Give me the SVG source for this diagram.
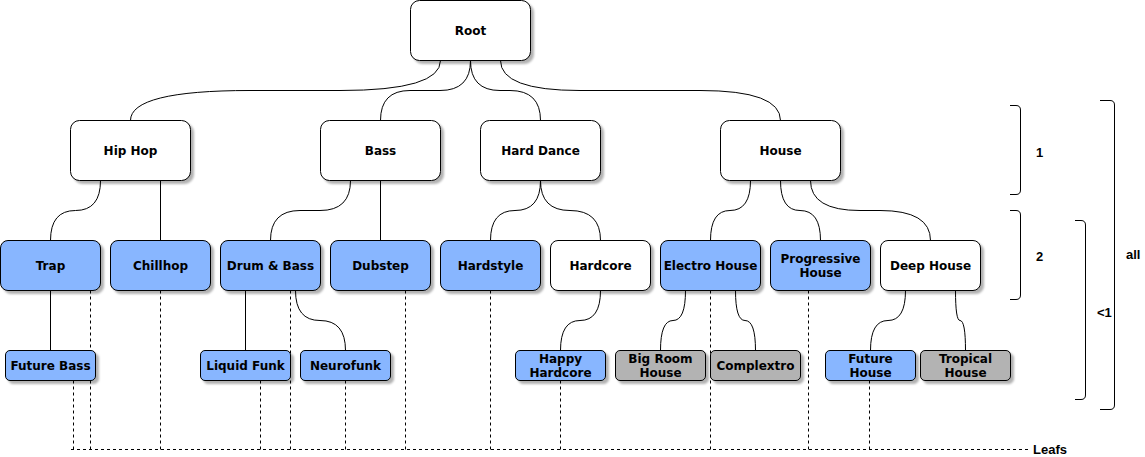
<svg xmlns="http://www.w3.org/2000/svg" width="1145" height="457" viewBox="0 0 1145 457">
<style>
.n{stroke:#000;stroke-width:1;filter:url(#sh)}
.w{fill:#fff}
.b{fill:#88b6ff}
.g{fill:#b3b3b3}
.t{font-family:"DejaVu Sans",Verdana,sans-serif;font-weight:bold;font-size:12px;fill:#000;text-anchor:middle}
.c path{fill:none;stroke:#000;stroke-width:1}
.d path{fill:none;stroke:#000;stroke-width:1;stroke-dasharray:3 3}
.br path{fill:none;stroke:#000;stroke-width:1}
.l{font-family:"Liberation Sans",Arial,sans-serif;font-weight:bold;font-size:13px;fill:#000}
</style>
<defs>
<filter id="sh" x="-10%" y="-10%" width="130%" height="140%">
<feDropShadow dx="3" dy="3" stdDeviation="0.8" flood-color="#000" flood-opacity="0.3"/>
</filter>
</defs>
<rect width="1145" height="457" fill="#fff"/>

<g id="leaf-lines" class="d">
<path d="M73.5 380.5V449.5"/>
<path d="M90.5 290.5V449.5"/>
<path d="M160.5 290.5V449.5"/>
<path d="M260.5 380.5V449.5"/>
<path d="M290.5 290.5V449.5"/>
<path d="M345.5 380.5V449.5"/>
<path d="M405.5 290.5V449.5"/>
<path d="M490.5 290.5V449.5"/>
<path d="M560.5 380.5V449.5"/>
<path d="M710.5 290.5V449.5"/>
<path d="M808.5 290.5V449.5"/>
<path d="M869.5 380.5V449.5"/>
<path d="M71 449.5H1030"/>
</g>

<g id="connectors" class="c">
<path d="M440.5 60.5Q440.5 90.5 340 90.5L250 90.5Q130.5 90.5 130.5 120.5"/>
<path d="M470.5 60.5Q470.5 90.5 440 90.5L410 90.5Q380.5 90.5 380.5 120.5"/>
<path d="M470.5 60.5Q470.5 90.5 500 90.5L510 90.5Q540.5 90.5 540.5 120.5"/>
<path d="M500.5 60.5Q500.5 90.5 580 90.5L700 90.5Q780.5 90.5 780.5 120.5"/>
<path d="M100.5 180.5Q100.5 210.5 75.5 210.5Q50.5 210.5 50.5 240.5"/>
<path d="M160.5 180.5V240.5"/>
<path d="M350.5 180.5Q350.5 210.5 320 210.5L300 210.5Q270.5 210.5 270.5 240.5"/>
<path d="M380.5 180.5V240.5"/>
<path d="M540.5 180.5Q540.5 210.5 515 210.5Q490.5 210.5 490.5 240.5"/>
<path d="M540.5 180.5Q540.5 210.5 570 210.5Q600.5 210.5 600.5 240.5"/>
<path d="M750.5 180.5Q750.5 210.5 730 210.5Q710.5 210.5 710.5 240.5"/>
<path d="M780.5 180.5Q780.5 210.5 800 210.5Q820.5 210.5 820.5 240.5"/>
<path d="M810.5 180.5Q810.5 210.5 860 210.5L880 210.5Q930.5 210.5 930.5 240.5"/>
<path d="M50.5 290.5V350.5"/>
<path d="M245.5 290.5V350.5"/>
<path d="M295.5 290.5Q295.5 320.5 320 320.5Q345.5 320.5 345.5 350.5"/>
<path d="M600.5 290.5Q600.5 320.5 580 320.5Q560.5 320.5 560.5 350.5"/>
<path d="M685.5 290.5Q685.5 320.5 673 320.5Q660.5 320.5 660.5 350.5"/>
<path d="M735.5 290.5Q735.5 320.5 745 320.5Q755.5 320.5 755.5 350.5"/>
<path d="M905.5 290.5Q905.5 320.5 888 320.5Q870.5 320.5 870.5 350.5"/>
<path d="M955.5 290.5Q955.5 320.5 960 320.5Q965.5 320.5 965.5 350.5"/>
</g>

<g id="root"><rect class="n w" x="410.5" y="0.5" width="120" height="60" rx="9"/><text class="t" x="470.5" y="35">Root</text></g>

<g id="hiphop"><rect class="n w" x="70.5" y="120.5" width="120" height="60" rx="9"/><text class="t" x="130.5" y="155">Hip Hop</text></g>
<g id="bass"><rect class="n w" x="320.5" y="120.5" width="120" height="60" rx="9"/><text class="t" x="380.5" y="155">Bass</text></g>
<g id="harddance"><rect class="n w" x="480.5" y="120.5" width="120" height="60" rx="9"/><text class="t" x="540.5" y="155">Hard Dance</text></g>
<g id="house"><rect class="n w" x="720.5" y="120.5" width="120" height="60" rx="9"/><text class="t" x="780.5" y="155">House</text></g>

<g id="trap"><rect class="n b" x="0.5" y="240.5" width="100" height="50" rx="7.5"/><text class="t" x="50.5" y="270">Trap</text></g>
<g id="chillhop"><rect class="n b" x="110.5" y="240.5" width="100" height="50" rx="7.5"/><text class="t" x="160.5" y="270">Chillhop</text></g>
<g id="drumbass"><rect class="n b" x="220.5" y="240.5" width="100" height="50" rx="7.5"/><text class="t" x="270.5" y="270">Drum &amp; Bass</text></g>
<g id="dubstep"><rect class="n b" x="330.5" y="240.5" width="100" height="50" rx="7.5"/><text class="t" x="380.5" y="270">Dubstep</text></g>
<g id="hardstyle"><rect class="n b" x="440.5" y="240.5" width="100" height="50" rx="7.5"/><text class="t" x="490.5" y="270">Hardstyle</text></g>
<g id="hardcore"><rect class="n w" x="550.5" y="240.5" width="100" height="50" rx="7.5"/><text class="t" x="600.5" y="270">Hardcore</text></g>
<g id="electrohouse"><rect class="n b" x="660.5" y="240.5" width="100" height="50" rx="7.5"/><text class="t" x="710.5" y="270">Electro House</text></g>
<g id="progressivehouse"><rect class="n b" x="770.5" y="240.5" width="100" height="50" rx="7.5"/><text class="t" x="820.5" y="263">Progressive</text><text class="t" x="820.5" y="277">House</text></g>
<g id="deephouse"><rect class="n w" x="880.5" y="240.5" width="100" height="50" rx="7.5"/><text class="t" x="930.5" y="270">Deep House</text></g>

<g id="futurebass"><rect class="n b" x="5.5" y="350.5" width="90" height="30" rx="4.5"/><text class="t" x="50.5" y="370">Future Bass</text></g>
<g id="liquidfunk"><rect class="n b" x="200.5" y="350.5" width="90" height="30" rx="4.5"/><text class="t" x="245.5" y="370">Liquid Funk</text></g>
<g id="neurofunk"><rect class="n b" x="300.5" y="350.5" width="90" height="30" rx="4.5"/><text class="t" x="345.5" y="370">Neurofunk</text></g>
<g id="happyhardcore"><rect class="n b" x="515.5" y="350.5" width="90" height="30" rx="4.5"/><text class="t" x="560.5" y="363">Happy</text><text class="t" x="560.5" y="377">Hardcore</text></g>
<g id="bigroomhouse"><rect class="n g" x="615.5" y="350.5" width="90" height="30" rx="4.5"/><text class="t" x="660.5" y="363">Big Room</text><text class="t" x="660.5" y="377">House</text></g>
<g id="complextro"><rect class="n g" x="710.5" y="350.5" width="90" height="30" rx="4.5"/><text class="t" x="755.5" y="370">Complextro</text></g>
<g id="futurehouse"><rect class="n b" x="825.5" y="350.5" width="90" height="30" rx="4.5"/><text class="t" x="870.5" y="363">Future</text><text class="t" x="870.5" y="377">House</text></g>
<g id="tropicalhouse"><rect class="n g" x="920.5" y="350.5" width="90" height="30" rx="4.5"/><text class="t" x="965.5" y="363">Tropical</text><text class="t" x="965.5" y="377">House</text></g>

<g id="brackets" class="br">
<path d="M1010 105.5H1016Q1020.5 105.5 1020.5 110V190Q1020.5 194.5 1016 194.5H1010"/>
<path d="M1010 210.5H1016Q1020.5 210.5 1020.5 215V295Q1020.5 299.5 1016 299.5H1010"/>
<path d="M1075 220.5H1081Q1085.5 220.5 1085.5 225V395Q1085.5 399.5 1081 399.5H1075"/>
<path d="M1100 100.5H1110Q1114.5 100.5 1114.5 105V405Q1114.5 409.5 1110 409.5H1100"/>
</g>
<g id="labels">
<text class="l" x="1036" y="157">1</text>
<text class="l" x="1036" y="261">2</text>
<text class="l" x="1097" y="317">&lt;1</text>
<text class="l" x="1126" y="259">all</text>
<text class="l" x="1033" y="454">Leafs</text>
</g>
</svg>
